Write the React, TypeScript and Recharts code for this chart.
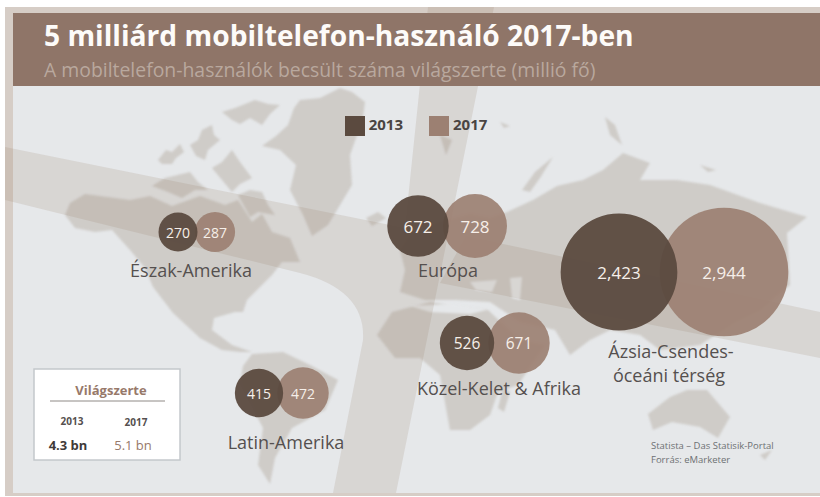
import React from "react";
import { ScatterChart, Scatter, XAxis, YAxis, ZAxis, LabelList, Legend } from "recharts";

const regions = ["Észak-Amerika", "Európa", "Ázsia-Csendes-óceáni térség", "Közel-Kelet & Afrika", "Latin-Amerika"];
const users2013 = [270, 672, 2423, 526, 415];
const users2017 = [287, 728, 2944, 671, 472];
// where each pair of bubbles sits on the map
const mapX2013 = [178, 418, 619, 467, 259];
const mapX2017 = [215, 475, 724, 519, 303];
const mapY = [232, 226, 272, 343, 393];

const data2013 = regions.map((region, i) => ({ region, x: mapX2013[i], y: mapY[i], users: users2013[i] }));
const data2017 = regions.map((region, i) => ({ region, x: mapX2017[i], y: mapY[i], users: users2017[i] }));

const WIDTH = 820;
const HEIGHT = 497;
const FONT = "'Open Sans', sans-serif";
const LAND = "#cfccc8";
const SEA = "#e6e8ea";
const BAND = "rgba(150,122,100,0.17)";
const DARK = "#5b4a3f";
const LIGHT = "#9c8072";

// rough outlines of the background map
const landPaths = [
  // North and Central America
  "M65 215 L70 203 L85 194 L130 200 L150 196 L172 206 L200 196 L225 205 L238 200 L252 222 L262 214 L272 232 L290 238 L300 262 L282 262 L272 275 L262 285 L247 300 L243 312 L235 312 L214 318 L212 330 L232 345 L252 352 L240 352 L222 350 L200 338 L173 313 L153 287 L145 268 L130 250 L112 230 L95 232 L75 228 Z",
  // Arctic islands
  "M158 160 L166 150 L172 152 L180 144 L184 152 L176 158 L172 164 L162 164 Z",
  "M190 145 L198 140 L202 130 L212 125 L214 135 L220 140 L208 150 L205 160 L196 156 Z",
  "M222 112 L235 108 L255 100 L268 104 L280 105 L270 114 L262 125 L250 118 L240 124 L232 120 Z",
  "M152 186 L165 178 L190 172 L198 182 L208 190 L195 190 L182 198 L168 192 Z",
  "M212 168 L222 162 L232 150 L240 162 L252 178 L240 184 L232 192 L222 180 Z",
  "M238 195 L250 190 L262 192 L268 205 L275 215 L258 212 L250 217 Z",
  // Greenland
  "M262 146 L276 136 L288 125 L294 108 L300 100 L320 98 L340 88 L352 92 L365 102 L362 125 L356 138 L350 155 L352 185 L340 205 L328 225 L312 236 L303 215 L290 190 L296 165 L280 150 Z",
  "M366 218 L378 212 L386 218 L372 226 Z",
  // South America
  "M243 366 L252 354 L283 352 L310 365 L338 380 L325 410 L292 428 L275 458 L270 484 L258 465 L263 428 L240 384 Z",
  // Europe and Asia
  "M400 250 L412 232 L440 222 L470 214 L490 218 L507 212 L533 200 L557 186 L583 180 L603 170 L623 153 L650 163 L640 180 L677 180 L710 185 L760 203 L807 217 L787 233 L790 285 L760 310 L735 322 L700 345 L660 350 L640 335 L610 330 L590 340 L570 355 L555 330 L520 322 L490 302 L455 300 L425 300 L400 292 L405 270 Z",
  // Africa
  "M377 335 L392 312 L430 302 L488 310 L520 340 L545 345 L518 385 L498 392 L490 415 L470 430 L450 430 L440 375 L420 358 L395 358 Z",
  "M503 388 L510 392 L504 412 L498 408 Z",
  // Australia and islands
  "M648 414 L670 397 L687 390 L707 390 L730 417 L718 438 L700 427 L672 422 L653 430 Z",
  "M760 455 L772 450 L765 460 Z",
  "M605 117 L615 125 L622 145 L610 135 Z",
  "M522 190 L535 172 L553 157 L540 178 L530 192 Z",
  "M440 135 L452 140 L446 155 Z",
  "M500 122 L510 126 L504 128 Z",
  "M700 165 L716 170 L708 172 Z",
];

// inland seas cut back out of the land
const seaPaths = [
  "M410 306 L450 304 L487 310 L470 314 L430 312 Z",
  "M470 282 L497 280 L492 292 L476 290 Z",
  "M510 278 L522 277 L520 300 L512 298 Z",
];

const MapBackground = () => (
  <svg width={WIDTH} height={HEIGHT} style={{ position: "absolute", left: 0, top: 0 }}>
    <rect x={5} y={7} width={815} height={489} fill="#d6cdc6" />
    <rect x={13} y={13} width={807} height={480} fill={SEA} />
    <g style={{ filter: "blur(0.8px)" }}>
      {landPaths.map((d, i) => (
        <path key={i} d={d} fill={LAND} />
      ))}
      {seaPaths.map((d, i) => (
        <path key={i} d={d} fill={SEA} />
      ))}
    </g>
    {/* the two crossing bands */}
    <path
      d="M428 7 L494 7 L396 493 L333 493 L363 340 Q366 290 300 273 L5 200 L5 147 L405 228 Z"
      fill={BAND}
    />
    <path d="M466 236 L820 312 L820 358 L440 283 Z" fill={BAND} />
    {/* header */}
    <rect x={13} y={13} width={807} height={73} fill="#8f7568" />
    <text x={44} y={46} fontFamily={FONT} fontWeight={700} fontSize={28.2} fill="#fdfbf9">
      5 milliárd mobiltelefon-használó 2017-ben
    </text>
    <text x={44} y={77} fontFamily={FONT} fontSize={19.4} fill="#b9a89e">
      A mobiltelefon-használók becsült száma világszerte (millió fő)
    </text>
  </svg>
);

const RegionLabels = () => {
  const common = { fontFamily: FONT, fontSize: 18, fill: "#55504f", textAnchor: "middle" as const };
  return (
    <svg width={WIDTH} height={HEIGHT} style={{ position: "absolute", left: 0, top: 0 }}>
      <text x={191} y={277} {...common}>Észak-Amerika</text>
      <text x={448} y={277} {...common}>Európa</text>
      <text x={671} y={358} {...common}>Ázsia-Csendes-</text>
      <text x={669} y={382} {...common}>óceáni térség</text>
      <text x={499} y={395} {...common}>Közel-Kelet &amp; Afrika</text>
      <text x={286} y={449} {...common}>Latin-Amerika</text>
      <text x={651} y={449} fontFamily={FONT} fontSize={9.5} fill="#6d7073">Statista – Das Statisik-Portal</text>
      <text x={651} y={463} fontFamily={FONT} fontSize={9.5} fill="#6d7073">Forrás: eMarketer</text>
    </svg>
  );
};

const WorldBox = () => (
  <svg width={WIDTH} height={HEIGHT} style={{ position: "absolute", left: 0, top: 0 }}>
    <rect x={34} y={369} width={146} height={91} fill="#ffffff" stroke="#c4c8cc" strokeWidth={1.5} />
    <text x={111} y={395} textAnchor="middle" fontFamily={FONT} fontWeight={700} fontSize={13} fill="#97796a">Világszerte</text>
    <line x1={50} x2={165} y1={401} y2={401} stroke="#8f8a86" />
    <text x={72} y={425} textAnchor="middle" fontFamily={FONT} fontWeight={700} fontSize={10} fill="#55504f">2013</text>
    <text x={136} y={426} textAnchor="middle" fontFamily={FONT} fontWeight={700} fontSize={10} fill="#55504f">2017</text>
    <text x={68} y={450} textAnchor="middle" fontFamily={FONT} fontWeight={700} fontSize={13} fill="#3f3a38">4.3 bn</text>
    <text x={133} y={450} textAnchor="middle" fontFamily={FONT} fontSize={13} fill="#97796a">5.1 bn</text>
  </svg>
);

// label inside a bubble, bigger for the bigger regions like in the original
const BubbleLabel = (props: any) => {
  const { x, y, width, height, value } = props;
  const size = value >= 672 ? 17 : value >= 500 ? 15.5 : 14;
  return (
    <text
      x={x + width / 2}
      y={y + height / 2}
      textAnchor="middle"
      dominantBaseline="central"
      fontFamily={FONT}
      fontSize={size}
      fill="#f6efe9"
    >
      {Number(value).toLocaleString("en-US")}
    </text>
  );
};

export default function App() {
  return (
    <div style={{ position: "absolute", left: 0, top: 0, width: WIDTH, height: HEIGHT, overflow: "hidden", background: "#fff" }}>
      <MapBackground />
      <div style={{ position: "absolute", left: 0, top: 0 }}>
        <ScatterChart width={WIDTH} height={HEIGHT} margin={{ top: 0, right: 0, bottom: 0, left: 0 }}>
          <XAxis type="number" dataKey="x" domain={[0, WIDTH]} hide />
          <YAxis type="number" dataKey="y" domain={[0, HEIGHT]} reversed hide />
          <ZAxis type="number" dataKey="users" domain={[0, 2944]} range={[0, 13000]} />
          <Legend
            layout="horizontal"
            verticalAlign="middle"
            iconType="square"
            iconSize={20}
            wrapperStyle={{ left: 334, top: 114, width: 190, textAlign: "left", fontFamily: FONT, fontWeight: 700, fontSize: 15 }}
            formatter={(value: string) => <span style={{ color: "#4a4442", marginRight: 16 }}>{value}</span>}
          />
          <Scatter name="2017" data={data2017} fill={LIGHT} fillOpacity={0.92} isAnimationActive={false}>
            <LabelList dataKey="users" content={BubbleLabel} />
          </Scatter>
          <Scatter name="2013" data={data2013} fill={DARK} fillOpacity={0.95} isAnimationActive={false}>
            <LabelList dataKey="users" content={BubbleLabel} />
          </Scatter>
        </ScatterChart>
      </div>
      <RegionLabels />
      <WorldBox />
    </div>
  );
}
